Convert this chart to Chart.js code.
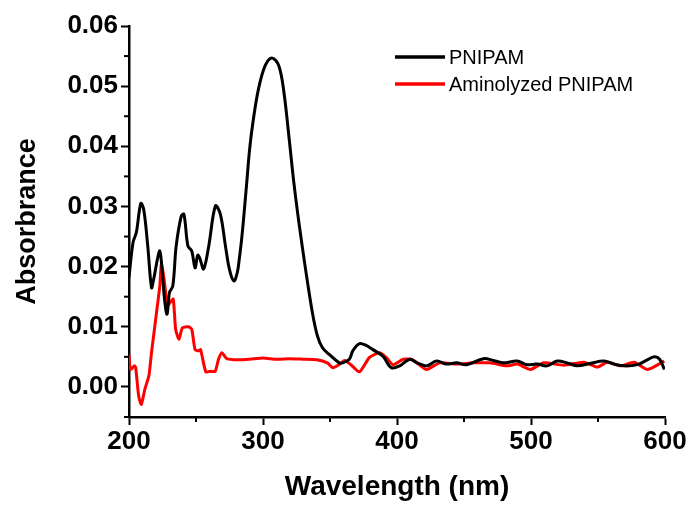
<!DOCTYPE html>
<html>
<head>
<meta charset="utf-8">
<script src="https://cdn.jsdelivr.net/npm/chart.js@4.4.1/dist/chart.umd.min.js"></script>
<style>
  html, body { margin: 0; padding: 0; background: #fff; }
  #wrap { width: 692px; height: 507px; }
</style>
</head>
<body>
<div id="wrap"><canvas id="spectrum"></canvas></div>
<script>
// UV-vis spectra
const seriesNames = ["PNIPAM", "Aminolyzed PNIPAM"];
const seriesColors = ["#000000", "#ff0000"];

const pnipamWl = [200, 203, 205.5, 208.8, 211, 214, 216.8, 218.4, 222.7, 224, 226.5, 228.4, 230.2, 232.7,
  235.2, 239, 241, 244, 246.8, 249.3, 251.3, 253, 255.7, 259.5, 264.5, 268.2, 272, 275, 278.3, 280.8,
  282, 284.3, 287.5, 290, 292.5, 296.6, 301.6, 306.6, 311.8, 315.6, 319.4, 323, 327, 331.8, 336.9,
  340.6, 344.4, 349.4, 356.9, 359.3, 364.4, 367, 372, 377, 382, 389.5, 395.7, 402, 409.5, 415, 422,
  429.5, 437, 444.5, 452, 464.5, 472, 479.5, 489.5, 497, 504.5, 512, 519.5, 527, 534.5, 544, 554.5,
  562, 569.5, 579.5, 586, 592, 596, 599.5];
const pnipamAbs = [0.0182, 0.024, 0.0257, 0.0305, 0.0295, 0.0234, 0.0165, 0.0179, 0.0226, 0.0212, 0.0146,
  0.0121, 0.0157, 0.0168, 0.0234, 0.0284, 0.0287, 0.0234, 0.0226, 0.0198, 0.0219, 0.0213, 0.0196, 0.0234,
  0.0301, 0.0287, 0.0234, 0.0195, 0.0176, 0.019, 0.0207, 0.0251, 0.033, 0.0395, 0.044, 0.0495, 0.0534,
  0.0547, 0.0534, 0.049, 0.0415, 0.034, 0.027, 0.0195, 0.0123, 0.0085, 0.0065, 0.0054, 0.004,
  0.004, 0.0046, 0.006, 0.0072, 0.0069, 0.0062, 0.0051, 0.0032, 0.0035, 0.0046, 0.004, 0.0035, 0.0043,
  0.0038, 0.004, 0.0037, 0.0047, 0.0044, 0.004, 0.0043, 0.0037, 0.0038, 0.0035, 0.0043, 0.004, 0.0035,
  0.0039, 0.0043, 0.0038, 0.0035, 0.0037, 0.0044, 0.005, 0.0046, 0.0029];

const aminoWl = [200, 201, 204, 205, 207.2, 209.2, 211.8, 214.8, 216.8, 220.5, 223, 224.3, 226.8, 228.5,
  230.5, 233, 234.8, 237.3, 239.8, 244.3, 246.8, 249.3, 251.8, 253.4, 257.3, 260.5, 264.3, 266.8, 269.3,
  273, 281.8, 290, 300, 310, 320, 330, 340, 348, 352, 356, 361, 366, 372, 379.5, 387, 392, 397, 404.6,
  410.8, 416, 422, 432, 444.5, 457, 469.5, 482, 490, 499.5, 509.5, 524.5, 539.5, 549.5, 557, 567, 577,
  587, 599.5];
const aminoAbs = [0.0054, 0.0029, 0.0035, 0.0032, -0.0015, -0.0029, -0.0004, 0.0018, 0.0057, 0.0123, 0.0168,
  0.0207, 0.0168, 0.0134, 0.014, 0.0146, 0.0096, 0.0079, 0.0098, 0.01, 0.0096, 0.0062, 0.006, 0.0062,
  0.0025, 0.0026, 0.0026, 0.0046, 0.0057, 0.0047, 0.0045, 0.0046, 0.0048, 0.0046, 0.0047, 0.0046, 0.0045,
  0.004, 0.0032, 0.0036, 0.0044, 0.0036, 0.0025, 0.0049, 0.0057, 0.0049, 0.0037, 0.0046, 0.0046, 0.0038,
  0.0029, 0.004, 0.0038, 0.004, 0.004, 0.0035, 0.0038, 0.0029, 0.004, 0.0036, 0.0041, 0.0033, 0.0041,
  0.0035, 0.0041, 0.0029, 0.0043];

const xTicks = [200, 300, 400, 500, 600];
const yTicks = [0.00, 0.01, 0.02, 0.03, 0.04, 0.05, 0.06];

const FONT = "'Liberation Sans', Arial, sans-serif";

function toPoints(xs, ys) {
  return xs.map((x, i) => ({ x: x, y: ys[i] }));
}

// minor ticks halfway between labelled ones, plus the in-plot legend
const extras = {
  id: "extras",
  afterDraw(chart) {
    const ctx = chart.ctx;
    const xs = chart.scales.x, ys = chart.scales.y;
    ctx.save();
    ctx.strokeStyle = "#000";
    ctx.lineWidth = 2;
    for (let i = 0; i < xTicks.length - 1; i++) {
      const px = xs.getPixelForValue((xTicks[i] + xTicks[i + 1]) / 2);
      ctx.beginPath();
      ctx.moveTo(px, xs.top);
      ctx.lineTo(px, xs.top + 5);
      ctx.stroke();
    }
    for (let i = -1; i < yTicks.length - 1; i++) {
      const v = i < 0 ? yTicks[0] - 0.005 : (yTicks[i] + yTicks[i + 1]) / 2;
      const py = ys.getPixelForValue(v);
      ctx.beginPath();
      ctx.moveTo(ys.right, py);
      ctx.lineTo(ys.right - 5, py);
      ctx.stroke();
    }
    // legend
    ctx.font = "20px " + FONT;
    ctx.textBaseline = "middle";
    ctx.textAlign = "left";
    chart.data.datasets.forEach((ds, i) => {
      const y = 57 + i * 27;
      ctx.strokeStyle = ds.borderColor;
      ctx.lineWidth = 3.5;
      ctx.beginPath();
      ctx.moveTo(395, y);
      ctx.lineTo(445, y);
      ctx.stroke();
      ctx.fillStyle = "#000";
      ctx.fillText(ds.label, 449, y + 1);
    });
    ctx.restore();
  }
};

new Chart(document.getElementById("spectrum"), {
  type: "line",
  data: {
    datasets: [
      {
        label: seriesNames[0],
        data: toPoints(pnipamWl, pnipamAbs),
        borderColor: seriesColors[0],
        borderWidth: 3,
        pointRadius: 0,
        tension: 0.35,
        fill: false
      },
      {
        label: seriesNames[1],
        data: toPoints(aminoWl, aminoAbs),
        borderColor: seriesColors[1],
        borderWidth: 3,
        pointRadius: 0,
        tension: 0.2,
        fill: false
      }
    ]
  },
  options: {
    responsive: true,
    maintainAspectRatio: false,
    animation: false,
    layout: { padding: { top: 26, right: 27, bottom: 0, left: 0 } },
    plugins: { legend: { display: false }, tooltip: { enabled: false } },
    scales: {
      x: {
        type: "linear",
        min: 200,
        max: 600,
        afterBuildTicks: (s) => { s.ticks = xTicks.map(v => ({ value: v })); },
        afterFit: (s) => { s.height = 90; },
        grid: { drawOnChartArea: false, drawTicks: true, tickLength: 8, tickWidth: 2, color: "#000" },
        border: { display: true, color: "#000", width: 2.5 },
        ticks: { color: "#000", padding: 1, maxRotation: 0, font: { family: FONT, size: 26, weight: "bold" } },
        title: {
          display: true,
          text: "Wavelength (nm)",
          color: "#000",
          padding: { top: 0, bottom: 3 },
          font: { family: FONT, size: 28, weight: "bold" }
        }
      },
      y: {
        min: -0.005,
        max: 0.06,
        afterBuildTicks: (s) => { s.ticks = yTicks.map(v => ({ value: v })); },
        afterFit: (s) => { s.width = 129; },
        grid: { drawOnChartArea: false, drawTicks: true, tickLength: 8, tickWidth: 2, color: "#000" },
        border: { display: true, color: "#000", width: 2.5 },
        ticks: {
          color: "#000",
          padding: 3,
          font: { family: FONT, size: 26, weight: "bold" },
          callback: (v) => v.toFixed(2)
        },
        title: {
          display: true,
          text: "Absorbrance",
          color: "#000",
          padding: { top: 11, bottom: 0 },
          font: { family: FONT, size: 27, weight: "bold" }
        }
      }
    }
  },
  plugins: [extras]
});
</script>
</body>
</html>
